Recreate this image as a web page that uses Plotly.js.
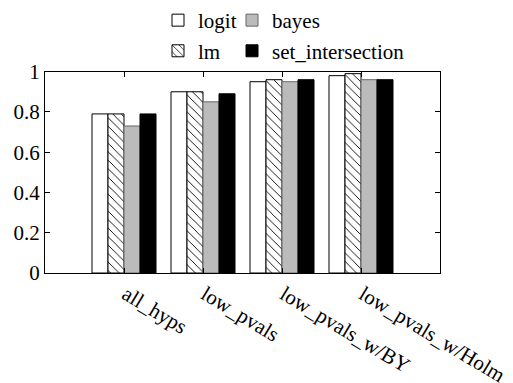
<!DOCTYPE html>
<html>
<head>
<meta charset="utf-8">
<script src="https://cdn.plot.ly/plotly-3.0.1.min.js"></script>
<style>
html,body{margin:0;padding:0;background:#fff;}
#chart{width:513px;height:383px;}
</style>
</head>
<body>
<div id="chart"></div>
<script>
var categories = ['all_hyps', 'low_pvals', 'low_pvals_w/BY', 'low_pvals_w/Holm'];
var logitValues = [0.79, 0.90, 0.95, 0.98];
var lmValues = [0.79, 0.90, 0.96, 0.99];
var bayesValues = [0.73, 0.85, 0.95, 0.96];
var setValues = [0.79, 0.89, 0.96, 0.96];
var yTickVals = [0, 0.2, 0.4, 0.6, 0.8, 1];
var yTickText = ['0', '0.2', '0.4', '0.6', '0.8', '1'];

var fontFam = "Times New Roman";

var traces = [
  {type: 'bar', name: 'logit', x: categories, y: logitValues, legend: 'legend',
   marker: {color: '#ffffff', line: {color: '#000000', width: 1}}},
  {type: 'bar', name: 'lm', x: categories, y: lmValues, legend: 'legend3',
   marker: {color: '#ffffff', line: {color: '#000000', width: 1},
            pattern: {shape: '\\', fgcolor: '#000000', bgcolor: '#ffffff', size: 6, solidity: 0.15}}},
  {type: 'bar', name: 'bayes', x: categories, y: bayesValues, legend: 'legend2',
   marker: {color: '#bbbbbb', line: {color: '#666666', width: 1}}},
  {type: 'bar', name: 'set_intersection', x: categories, y: setValues, legend: 'legend4',
   marker: {color: '#000000', line: {color: '#000000', width: 1}}}
];

function leg(x, y) {
  return {orientation: 'h', xref: 'container', yref: 'container', x: x, y: y, xanchor: 'left', yanchor: 'top',
          bgcolor: 'rgba(0,0,0,0)', font: {family: fontFam, size: 21, color: '#000'}};
}

var layout = {
  width: 513, height: 383,
  margin: {l: 45, r: 73, t: 68, b: 110},
  paper_bgcolor: '#ffffff', plot_bgcolor: '#ffffff',
  font: {family: fontFam, size: 21, color: '#000000'},
  barmode: 'group', bargap: 0.19, bargroupgap: 0,
  showlegend: true,
  legend: leg(158 / 513, 1.0),
  legend2: leg(232 / 513, 1.0),
  legend3: leg(158 / 513, 0.92),
  legend4: leg(232 / 513, 0.92),
  xaxis: {type: 'category', range: [-1, 4], showline: true, linecolor: '#000', linewidth: 1, mirror: 'ticks',
          ticks: 'inside', ticklen: 5, tickcolor: '#000', tickangle: 31, showgrid: false, zeroline: false,
          ticklabelshift: 2,
          tickfont: {family: fontFam, size: 21, color: '#000'}, fixedrange: true},
  yaxis: {range: [0, 1], showline: true, linecolor: '#000', linewidth: 1, mirror: 'ticks',
          ticks: 'inside', ticklen: 5, tickcolor: '#000', tickvals: yTickVals, ticktext: yTickText,
          showgrid: false, zeroline: false, tickfont: {family: fontFam, size: 21, color: '#000'}, fixedrange: true}
};

Plotly.newPlot('chart', traces, layout, {displayModeBar: false, staticPlot: true});
</script>
</body>
</html>
